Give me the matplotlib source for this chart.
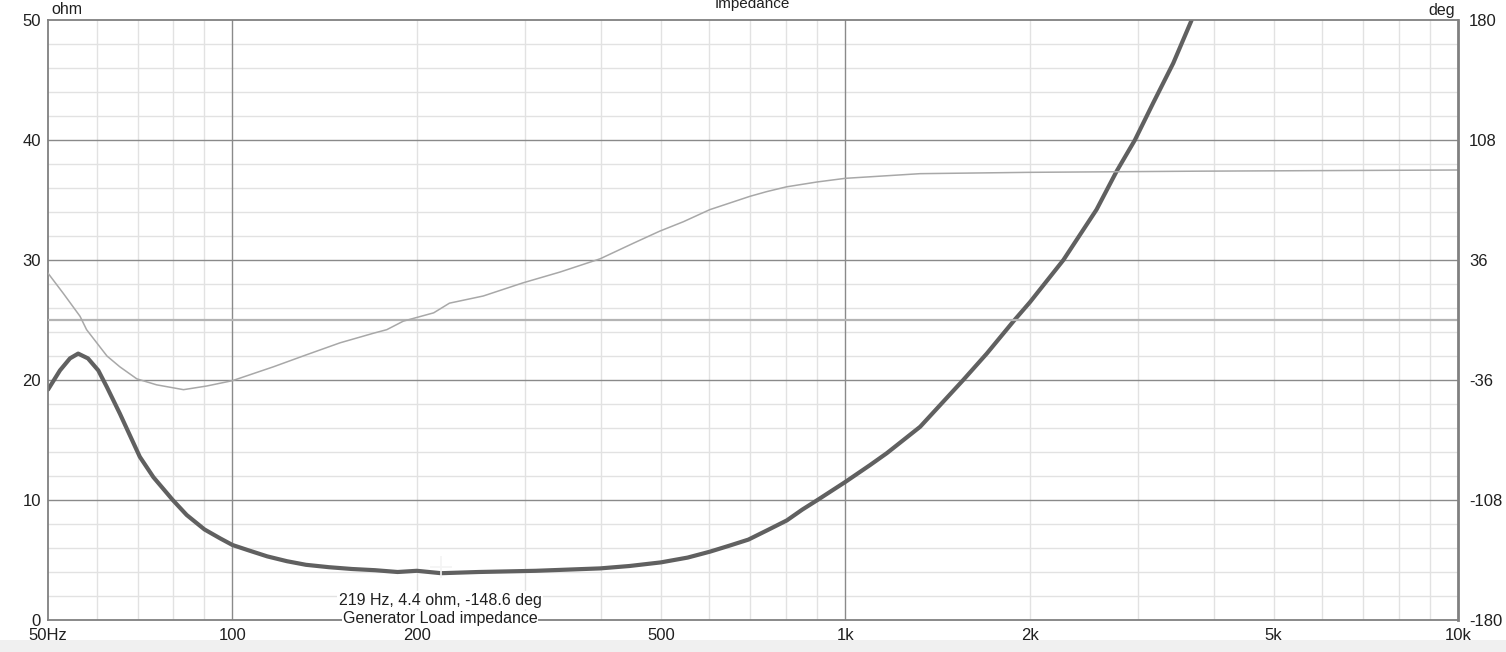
import matplotlib
matplotlib.use("Agg")
import matplotlib.pyplot as plt
from matplotlib.patches import Rectangle
from matplotlib.ticker import FixedLocator, NullLocator

# --- data ---
imp_freq = [50, 52.3, 54.3, 56, 58.1, 60.4, 62.4, 65.5, 68, 70.6, 74.3, 79.9, 84.2, 90,
            95.5, 100, 106.3, 114, 122.7, 131.8, 143.7, 156.7, 170.9, 186, 200, 219, 252,
            312.6, 398, 444.6, 500, 553, 602, 647.6, 695, 747.5, 803, 851, 901, 1000,
            1097, 1169, 1325, 1558, 1702, 1882, 2003, 2270, 2571, 2773, 2970, 3182,
            3430, 3676]
imp_ohm = [19.2, 20.8, 21.8, 22.2, 21.8, 20.8, 19.4, 17.2, 15.4, 13.6, 11.9, 10.0, 8.75, 7.55,
           6.8, 6.25, 5.8, 5.3, 4.9, 4.6, 4.4, 4.25, 4.15, 4.0, 4.1, 3.9, 4.0,
           4.1, 4.3, 4.5, 4.8, 5.2, 5.7, 6.2, 6.7, 7.5, 8.3, 9.2, 10.0, 11.5,
           12.9, 13.9, 16.1, 20.0, 22.2, 24.9, 26.5, 30.0, 34.2, 37.4, 40.0, 43.1,
           46.4, 50.0]

phase_freq = [50, 53, 56.4, 57.8, 62.4, 65.5, 69.8, 75.2, 83.2, 90.8, 100, 116.6, 132,
              149.8, 170, 178.6, 190, 213, 226, 256.6, 298, 342.6, 398, 451.3, 498,
              544.6, 601, 699, 744, 802, 899, 1000, 1325, 2000, 3791, 10000]
phase_deg = [28.1, 15.8, 2.2, -5.8, -21.6, -28.1, -35.3, -38.9, -41.8, -39.6, -36.4, -28.1,
             -20.9, -13.7, -7.9, -5.8, -0.7, 4.3, 10.1, 14.4, 22.3, 28.8, 36.7, 46.1, 53.3,
             59.0, 66.2, 74.2, 77.0, 79.9, 82.8, 85.0, 87.8, 88.6, 89.3, 90.0]

x_ticks = [50, 100, 200, 500, 1000, 2000, 5000, 10000]
x_labels = ["50Hz", "100", "200", "500", "1k", "2k", "5k", "10k"]
left_ticks = [0, 10, 20, 30, 40, 50]
right_ticks = [-180, -108, -36, 36, 108, 180]

cursor_freq = 219
cursor_ohm = 4.4

# --- styling ---
W, H = 1506, 652
plt.rcParams['font.family'] = ['Liberation Sans', 'DejaVu Sans']
dark_grid = "#8a8a8a"
light_grid = "#e2e2e2"
text_col = "#202020"

fig = plt.figure(figsize=(W / 100, H / 100), dpi=100)
fig.patch.set_facecolor("white")
# gray strip along the bottom edge
fig.patches.append(Rectangle((0, 0), 1, 12 / H, transform=fig.transFigure,
                             facecolor="#f0f0f0", edgecolor="none", zorder=0))

x0, x1, y0, y1 = 48, 1458, 20, 620
ax = fig.add_axes([x0 / W, 1 - y1 / H, (x1 - x0) / W, (y1 - y0) / H])
ax.set_xscale("log")
ax.set_xlim(50, 10000)
ax.set_ylim(0, 50)

# grid lines (light minor, darker major)
for dec in [10, 100, 1000]:
    for m in range(2, 10):
        f = dec * m
        if 50 < f < 10000:
            ax.axvline(f, color=light_grid, lw=1.0, zorder=0.5)
for f in [100, 1000]:
    ax.axvline(f, color=dark_grid, lw=1.0, zorder=0.6)
for v in range(2, 50, 2):
    if v % 10 == 0:
        ax.axhline(v, color=dark_grid, lw=1.0, zorder=0.6)
    else:
        ax.axhline(v, color=light_grid, lw=1.0, zorder=0.5)

ax.plot(imp_freq, imp_ohm, color="#606060", lw=3.0, solid_capstyle="round",
        solid_joinstyle="round", zorder=2)

ax.xaxis.set_major_locator(FixedLocator(x_ticks))
ax.xaxis.set_minor_locator(NullLocator())
ax.set_xticklabels(x_labels)
ax.yaxis.set_major_locator(FixedLocator(left_ticks))
ax.tick_params(axis="both", length=0, labelsize=12, colors=text_col)
ax.tick_params(axis="x", pad=6)
ax.tick_params(axis="y", pad=5)
for s in ["left", "top", "bottom"]:
    ax.spines[s].set_color("#808080")
    ax.spines[s].set_linewidth(1.3)
ax.spines["right"].set_visible(False)

# phase on the right axis
ax2 = ax.twinx()
ax2.set_ylim(-180, 180)
ax2.yaxis.set_major_locator(FixedLocator(right_ticks))
ax2.set_yticklabels([str(t) for t in right_ticks])
ax2.tick_params(axis="y", length=0, labelsize=12, colors=text_col, pad=8)
for s in ["left", "top", "bottom"]:
    ax2.spines[s].set_visible(False)
ax2.spines["right"].set_color("#808080")
ax2.spines["right"].set_linewidth(2.0)

ax2.axhline(0, color="#b4b4b4", lw=1.6, zorder=1)
ax2.plot(phase_freq, phase_deg, color="#a8a8a8", lw=1.1, zorder=1.5)

# cursor readout
ax.plot([cursor_freq], [cursor_ohm], marker="+", ms=16, mew=1.2, color="#f4f4f4", zorder=3)
bbox = dict(facecolor="white", edgecolor="none", pad=1.0)
fig.text(440 / W, 1 - 600 / H, "219 Hz, 4.4 ohm, -148.6 deg", ha="center", va="center",
         fontsize=11.5, color=text_col, bbox=bbox, zorder=10)
fig.text(440 / W, 1 - 619 / H, "Generator Load impedance", ha="center", va="center",
         fontsize=11.5, color=text_col, bbox=dict(facecolor="white", edgecolor="none",
                                                  pad=0.5), zorder=10)

# axis unit labels and title
fig.text(51 / W, 1 - 10 / H, "ohm", ha="left", va="center", fontsize=11.5, color=text_col)
fig.text(1455 / W, 1 - 10 / H, "deg", ha="right", va="center", fontsize=11.5, color=text_col)
fig.text(752 / W, 1 - 4 / H, "Impedance", ha="center", va="center", fontsize=11, color=text_col)

fig.savefig("out.png", dpi=100)
